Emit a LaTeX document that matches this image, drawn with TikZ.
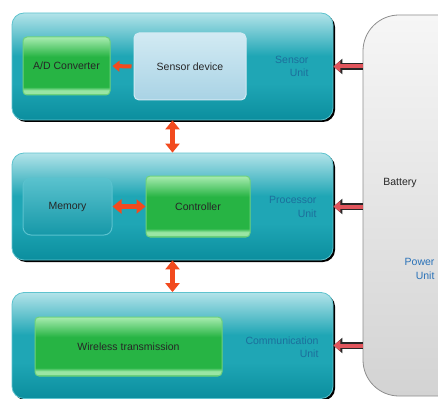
\documentclass[tikz,border=0pt]{standalone}
\usepackage{fontspec}
\setmainfont{Liberation Sans}
\usepackage{xcolor}
\definecolor{tealtop}{HTML}{B2E3E9}
\definecolor{tealmid}{HTML}{1FA6B5}
\definecolor{tealbot}{HTML}{0B8E9E}
\definecolor{tealedge}{HTML}{5EC3CE}
\definecolor{grntop}{HTML}{A8ECB0}
\definecolor{grnmid}{HTML}{27B444}
\definecolor{grnlite}{HTML}{9AE6A4}
\definecolor{grnedge}{HTML}{6FD27C}
\definecolor{skytop}{HTML}{D2EAF3}
\definecolor{skybot}{HTML}{A9D3E5}
\definecolor{memtop}{HTML}{5AC2CE}
\definecolor{membot}{HTML}{1698A8}
\definecolor{battop}{HTML}{F6F6F6}
\definecolor{batbot}{HTML}{D3D3D3}
\definecolor{batedge}{HTML}{8E8E8E}
\definecolor{arred}{HTML}{F24A1E}
\definecolor{pwred}{HTML}{E0555C}
\definecolor{ink}{HTML}{262626}
\definecolor{unitblue}{HTML}{1C6F9C}
\definecolor{pwrblue}{HTML}{2A72B8}
\usetikzlibrary{positioning,arrows.meta,shadows,calc}
% glossy fills, node spans 25bp..75bp
\pgfdeclareverticalshading{tealgloss}{100bp}{color(0bp)=(tealbot); color(25bp)=(tealbot);
  color(42bp)=(tealmid); color(55bp)=(tealmid); color(75bp)=(tealtop); color(100bp)=(tealtop)}
\pgfdeclareverticalshading{grngloss}{100bp}{color(0bp)=(grnmid); color(25bp)=(grnmid);
  color(26.5bp)=(grnlite); color(29bp)=(grnlite); color(32bp)=(grnmid); color(58bp)=(grnmid);
  color(75bp)=(grntop); color(100bp)=(grntop)}
\tikzset{
  unit/.style={draw=tealedge,line width=0.8pt,rounded corners=12pt,shading=tealgloss,
    drop shadow={shadow xshift=2pt,shadow yshift=-2pt,opacity=1,fill=black}},
  gblk/.style={draw=grnedge,line width=1pt,rounded corners=4pt,shading=grngloss},
  sblk/.style={draw=skytop,line width=1pt,rounded corners=5pt,top color=skytop,bottom color=skybot},
  mblk/.style={draw=memtop,line width=1pt,rounded corners=8pt,top color=memtop,bottom color=membot},
  batt/.style={draw=batedge,line width=0.8pt,rounded corners=36pt,top color=battop,bottom color=batbot},
  txt/.style={font=\fontsize{10.5}{12}\selectfont,text=ink},
  lbl/.style={font=\fontsize{10.5}{13.5}\selectfont,text=unitblue,align=right,anchor=east},
  dbl/.style={draw=arred,line width=5pt,{Triangle[width=14pt,length=9pt]}-{Triangle[width=14pt,length=9pt]}},
  sgl/.style={draw=arred,line width=4pt,-{Triangle[width=11pt,length=7pt]}},
  pwr/.style={draw=pwred,line width=4pt,-{Triangle[width=11pt,length=7pt]},
    preaction={draw=black!85,line width=6.5pt,-{Triangle[width=15pt,length=9pt]}}},
}
\begin{document}
\begin{tikzpicture}[x=1pt,y=-1pt]
  \clip (0,0) rectangle (438,398);
  \fill[white] (0,0) rectangle (438,398);
  % units
  \node[unit,minimum width=321pt,minimum height=107pt] (sensor) at (172.5,66.5) {};
  \node[unit,minimum width=321pt,minimum height=107pt] (proc) at (172.5,206.5) {};
  \node[unit,minimum width=321pt,minimum height=106pt] (comm) at (172.5,345.5) {};
  \node[batt,minimum width=112pt,minimum height=381pt] (power) at (419,205.5) {};
  % blocks inside
  \node[gblk,txt,minimum width=87pt,minimum height=58pt] (adc) at (66.5,66) {A/D Converter};
  \node[sblk,txt,minimum width=112pt,minimum height=67pt] (sdev) at (190,66.5) {Sensor device};
  \node[mblk,txt,minimum width=89pt,minimum height=57pt] (mem) at (67.5,206.5) {Memory};
  \node[gblk,txt,minimum width=104pt,minimum height=61pt] (ctrl) at (198,206.5) {Controller};
  \node[gblk,txt,minimum width=187pt,minimum height=59pt] (wless) at (128.5,346.5) {Wireless transmission};
  % labels
  \node[lbl] (sensorlbl) at (312,66.5) {Sensor\\Unit};
  \node[lbl] (proclbl) at (320,207) {Processor\\Unit};
  \node[lbl] (commlbl) at (322,347) {Communication\\Unit};
  \node[txt] (battlbl) at (400,183) {Battery};
  \node[lbl,text=pwrblue] (pwrlbl) at (438,269) {Power\\Unit};
  % arrows
  \draw[sgl,shorten <=2pt,shorten >=2pt] (sdev.west) -- (adc.east);
  \draw[dbl] (mem.east) -- (ctrl.west);
  \draw[dbl] (sensor.south) -- (proc.north);
  \draw[dbl] (proc.south) -- (comm.north);
  \foreach \u in {sensor,proc,comm}
    \draw[pwr] (power.west |- \u.east) -- (\u.east);
\end{tikzpicture}
\end{document}
